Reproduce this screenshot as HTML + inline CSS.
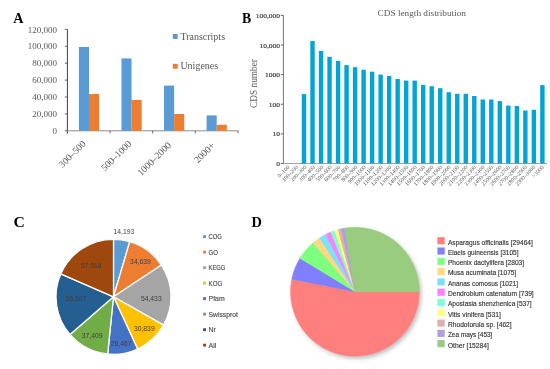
<!DOCTYPE html>
<html><head><meta charset="utf-8"><style>
html,body{margin:0;padding:0;background:#fff;width:550px;height:369px;overflow:hidden;font-family:"Liberation Sans", sans-serif;}
svg{display:block;will-change:transform;filter:blur(0.35px);}
</style></head><body>
<svg width="550" height="369" viewBox="0 0 550 369"><text x="13.2" y="23" font-family="'Liberation Serif', serif" font-weight="bold" font-size="14.2" fill="#000">A</text>
<text x="57" y="133.90" text-anchor="end" font-family="'Liberation Serif', serif" font-size="9" fill="#595959">0</text>
<line x1="64.8" x2="67.4" y1="130.80" y2="130.80" stroke="#595959" stroke-width="0.9"/>
<text x="57" y="117.00" text-anchor="end" font-family="'Liberation Serif', serif" font-size="9" fill="#595959">20,000</text>
<line x1="64.8" x2="67.4" y1="113.90" y2="113.90" stroke="#595959" stroke-width="0.9"/>
<text x="57" y="100.10" text-anchor="end" font-family="'Liberation Serif', serif" font-size="9" fill="#595959">40,000</text>
<line x1="64.8" x2="67.4" y1="97.00" y2="97.00" stroke="#595959" stroke-width="0.9"/>
<text x="57" y="83.20" text-anchor="end" font-family="'Liberation Serif', serif" font-size="9" fill="#595959">60,000</text>
<line x1="64.8" x2="67.4" y1="80.10" y2="80.10" stroke="#595959" stroke-width="0.9"/>
<text x="57" y="66.30" text-anchor="end" font-family="'Liberation Serif', serif" font-size="9" fill="#595959">80,000</text>
<line x1="64.8" x2="67.4" y1="63.20" y2="63.20" stroke="#595959" stroke-width="0.9"/>
<text x="57" y="49.40" text-anchor="end" font-family="'Liberation Serif', serif" font-size="9" fill="#595959">100,000</text>
<line x1="64.8" x2="67.4" y1="46.30" y2="46.30" stroke="#595959" stroke-width="0.9"/>
<text x="57" y="32.50" text-anchor="end" font-family="'Liberation Serif', serif" font-size="9" fill="#595959">120,000</text>
<line x1="64.8" x2="67.4" y1="29.40" y2="29.40" stroke="#595959" stroke-width="0.9"/>
<line x1="67.4" x2="67.4" y1="29.40" y2="133.4" stroke="#404040" stroke-width="1"/>
<line x1="66.9" x2="238.4" y1="130.8" y2="130.8" stroke="#8c8c8c" stroke-width="1"/>
<line x1="67.40" x2="67.40" y1="130.8" y2="133.4" stroke="#595959" stroke-width="0.9"/>
<line x1="110.05" x2="110.05" y1="130.8" y2="133.4" stroke="#595959" stroke-width="0.9"/>
<line x1="152.70" x2="152.70" y1="130.8" y2="133.4" stroke="#595959" stroke-width="0.9"/>
<line x1="195.35" x2="195.35" y1="130.8" y2="133.4" stroke="#595959" stroke-width="0.9"/>
<line x1="238.00" x2="238.00" y1="130.8" y2="133.4" stroke="#595959" stroke-width="0.9"/>
<rect x="78.90" y="47.0" width="10.1" height="83.80" fill="#5B9BD5"/>
<rect x="89.00" y="94.0" width="10.1" height="36.80" fill="#ED7D31"/>
<rect x="121.47" y="58.4" width="10.1" height="72.40" fill="#5B9BD5"/>
<rect x="131.57" y="99.9" width="10.1" height="30.90" fill="#ED7D31"/>
<rect x="164.04" y="85.6" width="10.1" height="45.20" fill="#5B9BD5"/>
<rect x="174.14" y="114.0" width="10.1" height="16.80" fill="#ED7D31"/>
<rect x="206.61" y="115.4" width="10.1" height="15.40" fill="#5B9BD5"/>
<rect x="216.71" y="124.8" width="10.1" height="6.00" fill="#ED7D31"/>
<text transform="translate(86.33,144.40) rotate(-45)" text-anchor="end" font-family="'Liberation Serif', serif" font-size="9.6" fill="#595959">300–500</text>
<text transform="translate(132.08,144.30) rotate(-45)" text-anchor="end" font-family="'Liberation Serif', serif" font-size="9.6" fill="#595959">500–1000</text>
<text transform="translate(171.73,145.80) rotate(-45)" text-anchor="end" font-family="'Liberation Serif', serif" font-size="9.6" fill="#595959">1000–2000</text>
<text transform="translate(215.38,146.20) rotate(-45)" text-anchor="end" font-family="'Liberation Serif', serif" font-size="9.6" fill="#595959">2000+</text>
<rect x="172.8" y="34" width="4.9" height="4.9" fill="#5B9BD5"/>
<text x="180.4" y="39.5" font-family="'Liberation Serif', serif" font-size="10" fill="#595959">Transcripts</text>
<rect x="172.8" y="63.8" width="4.9" height="4.9" fill="#ED7D31"/>
<text x="180.4" y="69.4" font-family="'Liberation Serif', serif" font-size="10" fill="#595959">Unigenes</text>
<text x="242" y="22.7" font-family="'Liberation Serif', serif" font-weight="bold" font-size="13.8" fill="#000">B</text>
<text x="377.6" y="15.6" font-family="'Liberation Serif', serif" font-size="9.25" fill="#595959">CDS length distribution</text>
<text transform="translate(280.0,166.00) scale(1,0.82)" text-anchor="end" font-family="'Liberation Serif', serif" font-size="7.5" fill="#3a3a3a" stroke="#3a3a3a" stroke-width="0.2">0</text>
<line x1="280.8" x2="283.4" y1="163.50" y2="163.50" stroke="#444" stroke-width="0.8"/>
<text transform="translate(280.0,136.38) scale(1,0.82)" text-anchor="end" font-family="'Liberation Serif', serif" font-size="7.5" fill="#3a3a3a" stroke="#3a3a3a" stroke-width="0.2">10</text>
<line x1="280.8" x2="283.4" y1="133.88" y2="133.88" stroke="#444" stroke-width="0.8"/>
<text transform="translate(280.0,106.76) scale(1,0.82)" text-anchor="end" font-family="'Liberation Serif', serif" font-size="7.5" fill="#3a3a3a" stroke="#3a3a3a" stroke-width="0.2">100</text>
<line x1="280.8" x2="283.4" y1="104.26" y2="104.26" stroke="#444" stroke-width="0.8"/>
<text transform="translate(280.0,77.14) scale(1,0.82)" text-anchor="end" font-family="'Liberation Serif', serif" font-size="7.5" fill="#3a3a3a" stroke="#3a3a3a" stroke-width="0.2">1000</text>
<line x1="280.8" x2="283.4" y1="74.64" y2="74.64" stroke="#444" stroke-width="0.8"/>
<text transform="translate(280.0,47.52) scale(1,0.82)" text-anchor="end" font-family="'Liberation Serif', serif" font-size="7.5" fill="#3a3a3a" stroke="#3a3a3a" stroke-width="0.2">10,000</text>
<line x1="280.8" x2="283.4" y1="45.02" y2="45.02" stroke="#444" stroke-width="0.8"/>
<text transform="translate(280.0,17.90) scale(1,0.82)" text-anchor="end" font-family="'Liberation Serif', serif" font-size="7.5" fill="#3a3a3a" stroke="#3a3a3a" stroke-width="0.2">100,000</text>
<line x1="280.8" x2="283.4" y1="15.40" y2="15.40" stroke="#444" stroke-width="0.8"/>
<line x1="283.4" x2="283.4" y1="15.40" y2="164.0" stroke="#666" stroke-width="0.9"/>
<line x1="283.4" x2="547" y1="163.5" y2="163.5" stroke="#999" stroke-width="0.9"/>
<text transform="translate(256.6,83.5) rotate(-90)" text-anchor="middle" font-family="'Liberation Serif', serif" font-size="9.3" fill="#595959">CDS number</text>
<rect x="301.80" y="94.1" width="4.4" height="69.40" fill="#00A5D6"/>
<rect x="310.31" y="41" width="4.4" height="122.50" fill="#00A5D6"/>
<rect x="318.83" y="50.9" width="4.4" height="112.60" fill="#00A5D6"/>
<rect x="327.34" y="56.9" width="4.4" height="106.60" fill="#00A5D6"/>
<rect x="335.86" y="60.9" width="4.4" height="102.60" fill="#00A5D6"/>
<rect x="344.37" y="65.1" width="4.4" height="98.40" fill="#00A5D6"/>
<rect x="352.88" y="67.2" width="4.4" height="96.30" fill="#00A5D6"/>
<rect x="361.40" y="69.7" width="4.4" height="93.80" fill="#00A5D6"/>
<rect x="369.91" y="71.7" width="4.4" height="91.80" fill="#00A5D6"/>
<rect x="378.43" y="74.6" width="4.4" height="88.90" fill="#00A5D6"/>
<rect x="386.94" y="76.0" width="4.4" height="87.50" fill="#00A5D6"/>
<rect x="395.45" y="79.0" width="4.4" height="84.50" fill="#00A5D6"/>
<rect x="403.97" y="80.6" width="4.4" height="82.90" fill="#00A5D6"/>
<rect x="412.48" y="80.6" width="4.4" height="82.90" fill="#00A5D6"/>
<rect x="421.00" y="84.9" width="4.4" height="78.60" fill="#00A5D6"/>
<rect x="429.51" y="86.2" width="4.4" height="77.30" fill="#00A5D6"/>
<rect x="438.02" y="88.2" width="4.4" height="75.30" fill="#00A5D6"/>
<rect x="446.54" y="92.2" width="4.4" height="71.30" fill="#00A5D6"/>
<rect x="455.05" y="93.8" width="4.4" height="69.70" fill="#00A5D6"/>
<rect x="463.57" y="93.8" width="4.4" height="69.70" fill="#00A5D6"/>
<rect x="472.08" y="96" width="4.4" height="67.50" fill="#00A5D6"/>
<rect x="480.59" y="99.5" width="4.4" height="64.00" fill="#00A5D6"/>
<rect x="489.11" y="99.5" width="4.4" height="64.00" fill="#00A5D6"/>
<rect x="497.62" y="101.1" width="4.4" height="62.40" fill="#00A5D6"/>
<rect x="506.14" y="105.6" width="4.4" height="57.90" fill="#00A5D6"/>
<rect x="514.65" y="106" width="4.4" height="57.50" fill="#00A5D6"/>
<rect x="523.16" y="110.5" width="4.4" height="53.00" fill="#00A5D6"/>
<rect x="531.68" y="109.8" width="4.4" height="53.70" fill="#00A5D6"/>
<rect x="540.19" y="85.1" width="4.4" height="78.40" fill="#00A5D6"/>
<text transform="translate(290.00,167.70) rotate(-45)" text-anchor="end" font-family="'Liberation Serif', serif" font-size="5.8" fill="#555">0–100</text>
<text transform="translate(298.48,167.70) rotate(-45)" text-anchor="end" font-family="'Liberation Serif', serif" font-size="5.8" fill="#555">100–200</text>
<text transform="translate(306.96,167.70) rotate(-45)" text-anchor="end" font-family="'Liberation Serif', serif" font-size="5.8" fill="#555">200–300</text>
<text transform="translate(315.44,167.70) rotate(-45)" text-anchor="end" font-family="'Liberation Serif', serif" font-size="5.8" fill="#555">300–400</text>
<text transform="translate(323.92,167.70) rotate(-45)" text-anchor="end" font-family="'Liberation Serif', serif" font-size="5.8" fill="#555">400–500</text>
<text transform="translate(332.40,167.70) rotate(-45)" text-anchor="end" font-family="'Liberation Serif', serif" font-size="5.8" fill="#555">500–600</text>
<text transform="translate(340.88,167.70) rotate(-45)" text-anchor="end" font-family="'Liberation Serif', serif" font-size="5.8" fill="#555">600–700</text>
<text transform="translate(349.36,167.70) rotate(-45)" text-anchor="end" font-family="'Liberation Serif', serif" font-size="5.8" fill="#555">700–800</text>
<text transform="translate(357.84,167.70) rotate(-45)" text-anchor="end" font-family="'Liberation Serif', serif" font-size="5.8" fill="#555">800–900</text>
<text transform="translate(366.32,167.70) rotate(-45)" text-anchor="end" font-family="'Liberation Serif', serif" font-size="5.8" fill="#555">900–1000</text>
<text transform="translate(374.80,167.70) rotate(-45)" text-anchor="end" font-family="'Liberation Serif', serif" font-size="5.8" fill="#555">1000–1100</text>
<text transform="translate(383.28,167.70) rotate(-45)" text-anchor="end" font-family="'Liberation Serif', serif" font-size="5.8" fill="#555">1100–1200</text>
<text transform="translate(391.76,167.70) rotate(-45)" text-anchor="end" font-family="'Liberation Serif', serif" font-size="5.8" fill="#555">1200–1300</text>
<text transform="translate(400.24,167.70) rotate(-45)" text-anchor="end" font-family="'Liberation Serif', serif" font-size="5.8" fill="#555">1300–1400</text>
<text transform="translate(408.72,167.70) rotate(-45)" text-anchor="end" font-family="'Liberation Serif', serif" font-size="5.8" fill="#555">1400–1500</text>
<text transform="translate(417.20,167.70) rotate(-45)" text-anchor="end" font-family="'Liberation Serif', serif" font-size="5.8" fill="#555">1500–1600</text>
<text transform="translate(425.68,167.70) rotate(-45)" text-anchor="end" font-family="'Liberation Serif', serif" font-size="5.8" fill="#555">1600–1700</text>
<text transform="translate(434.16,167.70) rotate(-45)" text-anchor="end" font-family="'Liberation Serif', serif" font-size="5.8" fill="#555">1700–1800</text>
<text transform="translate(442.64,167.70) rotate(-45)" text-anchor="end" font-family="'Liberation Serif', serif" font-size="5.8" fill="#555">1800–1900</text>
<text transform="translate(451.12,167.70) rotate(-45)" text-anchor="end" font-family="'Liberation Serif', serif" font-size="5.8" fill="#555">1900–2000</text>
<text transform="translate(459.60,167.70) rotate(-45)" text-anchor="end" font-family="'Liberation Serif', serif" font-size="5.8" fill="#555">2000–2100</text>
<text transform="translate(468.08,167.70) rotate(-45)" text-anchor="end" font-family="'Liberation Serif', serif" font-size="5.8" fill="#555">2100–2200</text>
<text transform="translate(476.56,167.70) rotate(-45)" text-anchor="end" font-family="'Liberation Serif', serif" font-size="5.8" fill="#555">2200–2300</text>
<text transform="translate(485.04,167.70) rotate(-45)" text-anchor="end" font-family="'Liberation Serif', serif" font-size="5.8" fill="#555">2300–2400</text>
<text transform="translate(493.52,167.70) rotate(-45)" text-anchor="end" font-family="'Liberation Serif', serif" font-size="5.8" fill="#555">2400–2500</text>
<text transform="translate(502.00,167.70) rotate(-45)" text-anchor="end" font-family="'Liberation Serif', serif" font-size="5.8" fill="#555">2500–2600</text>
<text transform="translate(510.48,167.70) rotate(-45)" text-anchor="end" font-family="'Liberation Serif', serif" font-size="5.8" fill="#555">2600–2700</text>
<text transform="translate(518.96,167.70) rotate(-45)" text-anchor="end" font-family="'Liberation Serif', serif" font-size="5.8" fill="#555">2700–2800</text>
<text transform="translate(527.44,167.70) rotate(-45)" text-anchor="end" font-family="'Liberation Serif', serif" font-size="5.8" fill="#555">2800–2900</text>
<text transform="translate(535.92,167.70) rotate(-45)" text-anchor="end" font-family="'Liberation Serif', serif" font-size="5.8" fill="#555">2900–3000</text>
<text transform="translate(544.40,167.70) rotate(-45)" text-anchor="end" font-family="'Liberation Serif', serif" font-size="5.8" fill="#555">&gt;3000</text>
<text x="13.4" y="226.7" font-family="'Liberation Serif', serif" font-weight="bold" font-size="15.6" fill="#000">C</text>
<path d="M113.5,296.8 L113.50,239.30 A57.5,57.5 0 0 1 129.76,241.65 Z" fill="#5B9BD5" stroke="#fff" stroke-width="1.3" stroke-linejoin="round"/>
<path d="M113.5,296.8 L129.76,241.65 A57.5,57.5 0 0 1 161.46,265.08 Z" fill="#ED7D31" stroke="#fff" stroke-width="1.3" stroke-linejoin="round"/>
<path d="M113.5,296.8 L161.46,265.08 A57.5,57.5 0 0 1 163.54,325.12 Z" fill="#A5A5A5" stroke="#fff" stroke-width="1.3" stroke-linejoin="round"/>
<path d="M113.5,296.8 L163.54,325.12 A57.5,57.5 0 0 1 137.62,349.00 Z" fill="#FFC000" stroke="#fff" stroke-width="1.3" stroke-linejoin="round"/>
<path d="M113.5,296.8 L137.62,349.00 A57.5,57.5 0 0 1 107.66,354.00 Z" fill="#4472C4" stroke="#fff" stroke-width="1.3" stroke-linejoin="round"/>
<path d="M113.5,296.8 L107.66,354.00 A57.5,57.5 0 0 1 70.02,334.43 Z" fill="#70AD47" stroke="#fff" stroke-width="1.3" stroke-linejoin="round"/>
<path d="M113.5,296.8 L70.02,334.43 A57.5,57.5 0 0 1 60.74,273.93 Z" fill="#255E91" stroke="#fff" stroke-width="1.3" stroke-linejoin="round"/>
<path d="M113.5,296.8 L60.74,273.93 A57.5,57.5 0 0 1 113.50,239.30 Z" fill="#9E480E" stroke="#fff" stroke-width="1.3" stroke-linejoin="round"/>
<text x="113.5" y="234.3" font-family="'Liberation Sans', sans-serif" font-size="7.4" textLength="20.8" lengthAdjust="spacingAndGlyphs" fill="#404040">14,193</text>
<text x="130.1" y="263.9" font-family="'Liberation Sans', sans-serif" font-size="7.4" textLength="20.8" lengthAdjust="spacingAndGlyphs" fill="#404040">34,639</text>
<text x="140.9" y="300.5" font-family="'Liberation Sans', sans-serif" font-size="7.4" textLength="20.8" lengthAdjust="spacingAndGlyphs" fill="#404040">54,433</text>
<text x="133.9" y="331.2" font-family="'Liberation Sans', sans-serif" font-size="7.4" textLength="20.8" lengthAdjust="spacingAndGlyphs" fill="#404040">30,839</text>
<text x="110.8" y="346.3" font-family="'Liberation Sans', sans-serif" font-size="7.4" textLength="20.8" lengthAdjust="spacingAndGlyphs" fill="#404040">26,467</text>
<text x="81.8" y="338.4" font-family="'Liberation Sans', sans-serif" font-size="7.4" textLength="20.8" lengthAdjust="spacingAndGlyphs" fill="#404040">37,409</text>
<text x="65.6" y="301.2" font-family="'Liberation Sans', sans-serif" font-size="7.4" textLength="20.8" lengthAdjust="spacingAndGlyphs" fill="#404040">55,567</text>
<text x="80.8" y="267.6" font-family="'Liberation Sans', sans-serif" font-size="7.4" textLength="20.8" lengthAdjust="spacingAndGlyphs" fill="#404040">57,518</text>
<rect x="203.1" y="235.20" width="2.9" height="2.9" fill="#5B9BD5"/>
<text x="208.6" y="239.10" font-family="'Liberation Sans', sans-serif" font-size="7.4" textLength="13.3" lengthAdjust="spacingAndGlyphs" fill="#505050" stroke="#505050" stroke-width="0.18">COG</text>
<rect x="203.1" y="250.70" width="2.9" height="2.9" fill="#ED7D31"/>
<text x="208.6" y="254.60" font-family="'Liberation Sans', sans-serif" font-size="7.4" textLength="9.5" lengthAdjust="spacingAndGlyphs" fill="#505050" stroke="#505050" stroke-width="0.18">GO</text>
<rect x="203.1" y="266.20" width="2.9" height="2.9" fill="#A5A5A5"/>
<text x="208.6" y="270.10" font-family="'Liberation Sans', sans-serif" font-size="7.4" textLength="16.7" lengthAdjust="spacingAndGlyphs" fill="#505050" stroke="#505050" stroke-width="0.18">KEGG</text>
<rect x="203.1" y="281.70" width="2.9" height="2.9" fill="#FFC000"/>
<text x="208.6" y="285.60" font-family="'Liberation Sans', sans-serif" font-size="7.4" textLength="13.7" lengthAdjust="spacingAndGlyphs" fill="#505050" stroke="#505050" stroke-width="0.18">KOG</text>
<rect x="203.1" y="297.20" width="2.9" height="2.9" fill="#4472C4"/>
<text x="208.6" y="301.10" font-family="'Liberation Sans', sans-serif" font-size="7.4" textLength="16.0" lengthAdjust="spacingAndGlyphs" fill="#505050" stroke="#505050" stroke-width="0.18">Pfam</text>
<rect x="203.1" y="312.70" width="2.9" height="2.9" fill="#70AD47"/>
<text x="208.6" y="316.60" font-family="'Liberation Sans', sans-serif" font-size="7.4" textLength="29.2" lengthAdjust="spacingAndGlyphs" fill="#505050" stroke="#505050" stroke-width="0.18">Swissprot</text>
<rect x="203.1" y="328.20" width="2.9" height="2.9" fill="#255E91"/>
<text x="208.6" y="332.10" font-family="'Liberation Sans', sans-serif" font-size="7.4" textLength="7.3" lengthAdjust="spacingAndGlyphs" fill="#505050" stroke="#505050" stroke-width="0.18">Nr</text>
<rect x="203.1" y="343.70" width="2.9" height="2.9" fill="#9E480E"/>
<text x="208.6" y="347.60" font-family="'Liberation Sans', sans-serif" font-size="7.4" textLength="7.8" lengthAdjust="spacingAndGlyphs" fill="#505050" stroke="#505050" stroke-width="0.18">All</text>
<text x="251.6" y="226.6" font-family="'Liberation Serif', serif" font-weight="bold" font-size="14.4" fill="#000">D</text>
<defs><filter id="sh" x="-20%" y="-20%" width="140%" height="140%"><feGaussianBlur stdDeviation="2"/></filter></defs>
<circle cx="356.9" cy="294.2" r="64.5" fill="#000" opacity="0.25" filter="url(#sh)"/>
<path d="M354.9,291.7 L419.40,291.70 A64.5,64.5 0 1 1 291.63,279.16 Z" fill="#FF7F7F" stroke="#FF7F7F" stroke-width="0.3"/>
<path d="M354.9,291.7 L291.63,279.16 A64.5,64.5 0 0 1 299.82,258.14 Z" fill="#7F7FFF" stroke="#7F7FFF" stroke-width="0.3"/>
<path d="M354.9,291.7 L299.82,258.14 A64.5,64.5 0 0 1 313.05,242.62 Z" fill="#7FFF7F" stroke="#7FFF7F" stroke-width="0.3"/>
<path d="M354.9,291.7 L313.05,242.62 A64.5,64.5 0 0 1 319.32,237.90 Z" fill="#FFD97F" stroke="#FFD97F" stroke-width="0.3"/>
<path d="M354.9,291.7 L319.32,237.90 A64.5,64.5 0 0 1 325.77,234.15 Z" fill="#7FDFFF" stroke="#7FDFFF" stroke-width="0.3"/>
<path d="M354.9,291.7 L325.77,234.15 A64.5,64.5 0 0 1 330.68,231.92 Z" fill="#FF7FFF" stroke="#FF7FFF" stroke-width="0.3"/>
<path d="M354.9,291.7 L330.68,231.92 A64.5,64.5 0 0 1 334.36,230.56 Z" fill="#7FFFD4" stroke="#7FFFD4" stroke-width="0.3"/>
<path d="M354.9,291.7 L334.36,230.56 A64.5,64.5 0 0 1 338.07,229.43 Z" fill="#FFFF7F" stroke="#FFFF7F" stroke-width="0.3"/>
<path d="M354.9,291.7 L338.07,229.43 A64.5,64.5 0 0 1 341.35,228.64 Z" fill="#DFAFAF" stroke="#DFAFAF" stroke-width="0.3"/>
<path d="M354.9,291.7 L341.35,228.64 A64.5,64.5 0 0 1 344.60,228.03 Z" fill="#AF9FDF" stroke="#AF9FDF" stroke-width="0.3"/>
<path d="M354.9,291.7 L344.60,228.03 A64.5,64.5 0 0 1 419.40,291.70 Z" fill="#99CC7F" stroke="#99CC7F" stroke-width="0.3"/>
<rect x="437.4" y="237.20" width="7.3" height="7.1" fill="#FF7F7F"/>
<text x="447.9" y="244.60" font-family="'Liberation Sans', sans-serif" font-size="6.9" textLength="85.0" lengthAdjust="spacingAndGlyphs" fill="#333" stroke="#333" stroke-width="0.14">Asparagus officinalis [29464]</text>
<rect x="437.4" y="247.49" width="7.3" height="7.1" fill="#7F7FFF"/>
<text x="447.9" y="254.89" font-family="'Liberation Sans', sans-serif" font-size="6.9" textLength="70.6" lengthAdjust="spacingAndGlyphs" fill="#333" stroke="#333" stroke-width="0.14">Elaeis guineensis [3105]</text>
<rect x="437.4" y="257.78" width="7.3" height="7.1" fill="#7FFF7F"/>
<text x="447.9" y="265.18" font-family="'Liberation Sans', sans-serif" font-size="6.9" textLength="76.2" lengthAdjust="spacingAndGlyphs" fill="#333" stroke="#333" stroke-width="0.14">Phoenix dactylifera [2803]</text>
<rect x="437.4" y="268.07" width="7.3" height="7.1" fill="#FFD97F"/>
<text x="447.9" y="275.47" font-family="'Liberation Sans', sans-serif" font-size="6.9" textLength="68.4" lengthAdjust="spacingAndGlyphs" fill="#333" stroke="#333" stroke-width="0.14">Musa acuminata [1075]</text>
<rect x="437.4" y="278.36" width="7.3" height="7.1" fill="#7FDFFF"/>
<text x="447.9" y="285.76" font-family="'Liberation Sans', sans-serif" font-size="6.9" textLength="70.2" lengthAdjust="spacingAndGlyphs" fill="#333" stroke="#333" stroke-width="0.14">Ananas comosus [1021]</text>
<rect x="437.4" y="288.65" width="7.3" height="7.1" fill="#FF7FFF"/>
<text x="447.9" y="296.05" font-family="'Liberation Sans', sans-serif" font-size="6.9" textLength="85.8" lengthAdjust="spacingAndGlyphs" fill="#333" stroke="#333" stroke-width="0.14">Dendrobium catenatum [739]</text>
<rect x="437.4" y="298.94" width="7.3" height="7.1" fill="#7FFFD4"/>
<text x="447.9" y="306.34" font-family="'Liberation Sans', sans-serif" font-size="6.9" textLength="83.8" lengthAdjust="spacingAndGlyphs" fill="#333" stroke="#333" stroke-width="0.14">Apostasia shenzhenica [537]</text>
<rect x="437.4" y="309.23" width="7.3" height="7.1" fill="#FFFF7F"/>
<text x="447.9" y="316.63" font-family="'Liberation Sans', sans-serif" font-size="6.9" textLength="53.0" lengthAdjust="spacingAndGlyphs" fill="#333" stroke="#333" stroke-width="0.14">Vitis vinifera [531]</text>
<rect x="437.4" y="319.52" width="7.3" height="7.1" fill="#DFAFAF"/>
<text x="447.9" y="326.92" font-family="'Liberation Sans', sans-serif" font-size="6.9" textLength="63.8" lengthAdjust="spacingAndGlyphs" fill="#333" stroke="#333" stroke-width="0.14">Rhodotorula sp. [462]</text>
<rect x="437.4" y="329.81" width="7.3" height="7.1" fill="#AF9FDF"/>
<text x="447.9" y="337.21" font-family="'Liberation Sans', sans-serif" font-size="6.9" textLength="44.5" lengthAdjust="spacingAndGlyphs" fill="#333" stroke="#333" stroke-width="0.14">Zea mays [453]</text>
<rect x="437.4" y="340.10" width="7.3" height="7.1" fill="#99CC7F"/>
<text x="447.9" y="347.50" font-family="'Liberation Sans', sans-serif" font-size="6.9" textLength="41.0" lengthAdjust="spacingAndGlyphs" fill="#333" stroke="#333" stroke-width="0.14">Other [15284]</text></svg>
</body></html>
